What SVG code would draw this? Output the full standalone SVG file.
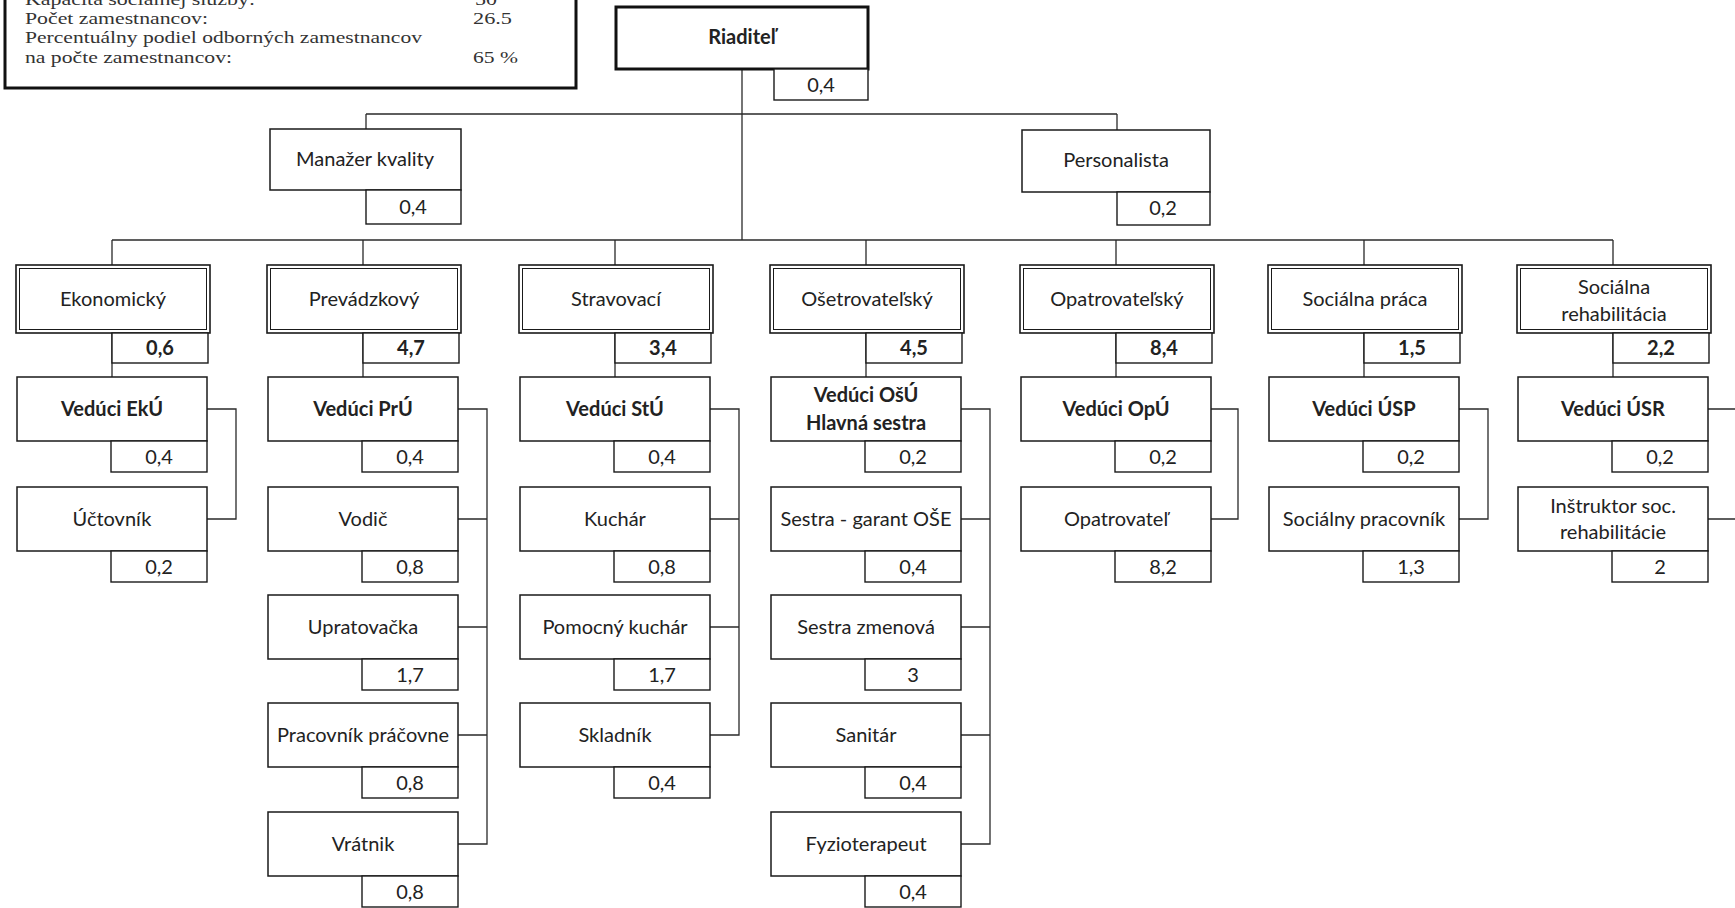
<svg xmlns="http://www.w3.org/2000/svg" width="1735" height="908" viewBox="0 0 1735 908">
<style>
  .bx{fill:#fff;stroke:#1a1a1a;stroke-width:1.5}
  .dbo{fill:#fff;stroke:#1a1a1a;stroke-width:1.6}
  .dbi{fill:none;stroke:#1a1a1a;stroke-width:1}
  .thick{fill:#fff;stroke:#111;stroke-width:3}
  .vb{fill:#fff;stroke:#1a1a1a;stroke-width:1.4}
  .ln{fill:none;stroke:#2a2a2a;stroke-width:1.3}
  .t{font-family:Lato,"Liberation Sans",sans-serif;font-size:20px;fill:#222;text-anchor:middle}
  .b{font-weight:bold}
  .v{font-family:Lato,"Liberation Sans",sans-serif;font-size:20px;fill:#222;text-anchor:middle}
  .inf{font-family:"Liberation Serif","Times New Roman",serif;font-size:17px;fill:#333}
</style>

<g id="info">
  <rect class="thick" x="5" y="-10" width="571" height="98"/>
  <text class="inf" x="25" y="5" textLength="230" lengthAdjust="spacingAndGlyphs">Kapacita sociálnej služby:</text>
  <text class="inf" x="475" y="5" textLength="22" lengthAdjust="spacingAndGlyphs">50</text>
  <text class="inf" x="25" y="24" textLength="183" lengthAdjust="spacingAndGlyphs">Počet zamestnancov:</text>
  <text class="inf" x="473" y="24" textLength="39" lengthAdjust="spacingAndGlyphs">26.5</text>
  <text class="inf" x="25" y="43" textLength="397" lengthAdjust="spacingAndGlyphs">Percentuálny podiel odborných zamestnancov</text>
  <text class="inf" x="25" y="63" textLength="207" lengthAdjust="spacingAndGlyphs">na počte zamestnancov:</text>
  <text class="inf" x="473" y="63" textLength="45" lengthAdjust="spacingAndGlyphs">65 %</text>
</g>

<g id="connectors">
  <path class="ln" d="M742,69 V240"/>
  <path class="ln" d="M366,114 H1117 M366,114 V129 M1117,114 V130"/>
  <path class="ln" d="M112,240 H1613"/>
  <path class="ln" d="M112,240 V265 M363,240 V265 M615,240 V265 M866,240 V265 M1116,240 V265 M1364,240 V265 M1613,240 V265"/>
  <path class="ln" d="M112,333 V377 M363,333 V377 M615,333 V377 M866,333 V377 M1116,333 V377 M1364,333 V377 M1613,333 V377"/>
  <path class="ln" d="M207,409 H236 V519 H207"/>
  <path class="ln" d="M458,409 H487 V844 H458 M458,519 H487 M458,627 H487 M458,735 H487"/>
  <path class="ln" d="M710,409 H739 V735 H710 M710,519 H739 M710,627 H739"/>
  <path class="ln" d="M961,409 H990 V844 H961 M961,519 H990 M961,627 H990 M961,735 H990"/>
  <path class="ln" d="M1211,409 H1238 V519 H1211"/>
  <path class="ln" d="M1459,409 H1488 V519 H1459"/>
  <path class="ln" d="M1708,409 H1735 M1708,519 H1735"/>
</g>

<g id="riaditel">
  <rect class="thick" x="616" y="7" width="252" height="62"/>
  <text class="t b" x="742" y="44">Riaditeľ</text>
  <rect class="vb" x="774" y="69" width="94" height="31"/>
  <text class="v" x="821" y="92">0,4</text>
</g>

<g id="manazer">
  <rect class="bx" x="270" y="129" width="191" height="61"/>
  <text class="t" x="365" y="166">Manažer kvality</text>
  <rect class="vb" x="366" y="190" width="95" height="34"/>
  <text class="v" x="413" y="214">0,4</text>
</g>

<g id="personalista">
  <rect class="bx" x="1022" y="130" width="188" height="62"/>
  <text class="t" x="1116" y="167">Personalista</text>
  <rect class="vb" x="1117" y="192" width="93" height="33"/>
  <text class="v" x="1163" y="215">0,2</text>
</g>

<g id="dept-ekonomicky">
  <rect class="dbo" x="16" y="265" width="194" height="68"/>
  <rect class="dbi" x="19.5" y="268.5" width="187" height="61"/>
  <text class="t" x="113" y="306">Ekonomický</text>
  <rect class="vb" x="112" y="333" width="96" height="30"/>
  <text class="v b" x="160" y="355">0,6</text>
</g>
<g id="veduci-eku">
  <rect class="bx" x="17" y="377" width="190" height="64"/>
  <text class="t b" x="112" y="416">Vedúci EkÚ</text>
  <rect class="vb" x="111" y="441" width="96" height="31"/>
  <text class="v" x="159" y="464">0,4</text>
</g>
<g id="uctovnik">
  <rect class="bx" x="17" y="487" width="190" height="64"/>
  <text class="t" x="112" y="526">Účtovník</text>
  <rect class="vb" x="111" y="551" width="96" height="31"/>
  <text class="v" x="159" y="574">0,2</text>
</g>

<g id="dept-prevadzkovy">
  <rect class="dbo" x="267" y="265" width="194" height="68"/>
  <rect class="dbi" x="270.5" y="268.5" width="187" height="61"/>
  <text class="t" x="364" y="306">Prevádzkový</text>
  <rect class="vb" x="363" y="333" width="96" height="30"/>
  <text class="v b" x="411" y="355">4,7</text>
</g>
<g id="veduci-pru">
  <rect class="bx" x="268" y="377" width="190" height="64"/>
  <text class="t b" x="363" y="416">Vedúci PrÚ</text>
  <rect class="vb" x="362" y="441" width="96" height="31"/>
  <text class="v" x="410" y="464">0,4</text>
</g>
<g id="vodic">
  <rect class="bx" x="268" y="487" width="190" height="64"/>
  <text class="t" x="363" y="526">Vodič</text>
  <rect class="vb" x="362" y="551" width="96" height="31"/>
  <text class="v" x="410" y="574">0,8</text>
</g>
<g id="upratovacka">
  <rect class="bx" x="268" y="595" width="190" height="64"/>
  <text class="t" x="363" y="634">Upratovačka</text>
  <rect class="vb" x="362" y="659" width="96" height="31"/>
  <text class="v" x="410" y="682">1,7</text>
</g>
<g id="pracovnik-pracovne">
  <rect class="bx" x="268" y="703" width="190" height="64"/>
  <text class="t" x="363" y="742">Pracovník práčovne</text>
  <rect class="vb" x="362" y="767" width="96" height="31"/>
  <text class="v" x="410" y="790">0,8</text>
</g>
<g id="vratnik">
  <rect class="bx" x="268" y="812" width="190" height="64"/>
  <text class="t" x="363" y="851">Vrátnik</text>
  <rect class="vb" x="362" y="876" width="96" height="31"/>
  <text class="v" x="410" y="899">0,8</text>
</g>

<g id="dept-stravovaci">
  <rect class="dbo" x="519" y="265" width="194" height="68"/>
  <rect class="dbi" x="522.5" y="268.5" width="187" height="61"/>
  <text class="t" x="616" y="306">Stravovací</text>
  <rect class="vb" x="615" y="333" width="96" height="30"/>
  <text class="v b" x="663" y="355">3,4</text>
</g>
<g id="veduci-stu">
  <rect class="bx" x="520" y="377" width="190" height="64"/>
  <text class="t b" x="615" y="416">Vedúci StÚ</text>
  <rect class="vb" x="614" y="441" width="96" height="31"/>
  <text class="v" x="662" y="464">0,4</text>
</g>
<g id="kuchar">
  <rect class="bx" x="520" y="487" width="190" height="64"/>
  <text class="t" x="615" y="526">Kuchár</text>
  <rect class="vb" x="614" y="551" width="96" height="31"/>
  <text class="v" x="662" y="574">0,8</text>
</g>
<g id="pomocny-kuchar">
  <rect class="bx" x="520" y="595" width="190" height="64"/>
  <text class="t" x="615" y="634">Pomocný kuchár</text>
  <rect class="vb" x="614" y="659" width="96" height="31"/>
  <text class="v" x="662" y="682">1,7</text>
</g>
<g id="skladnik">
  <rect class="bx" x="520" y="703" width="190" height="64"/>
  <text class="t" x="615" y="742">Skladník</text>
  <rect class="vb" x="614" y="767" width="96" height="31"/>
  <text class="v" x="662" y="790">0,4</text>
</g>

<g id="dept-osetrovatelsky">
  <rect class="dbo" x="770" y="265" width="194" height="68"/>
  <rect class="dbi" x="773.5" y="268.5" width="187" height="61"/>
  <text class="t" x="867" y="306">Ošetrovateľský</text>
  <rect class="vb" x="866" y="333" width="96" height="30"/>
  <text class="v b" x="914" y="355">4,5</text>
</g>
<g id="veduci-osu">
  <rect class="bx" x="771" y="377" width="190" height="64"/>
  <text class="t b" x="866" y="402">Vedúci OšÚ</text>
  <text class="t b" x="866" y="430">Hlavná sestra</text>
  <rect class="vb" x="865" y="441" width="96" height="31"/>
  <text class="v" x="913" y="464">0,2</text>
</g>
<g id="sestra-garant">
  <rect class="bx" x="771" y="487" width="190" height="64"/>
  <text class="t" x="866" y="526">Sestra - garant OŠE</text>
  <rect class="vb" x="865" y="551" width="96" height="31"/>
  <text class="v" x="913" y="574">0,4</text>
</g>
<g id="sestra-zmenova">
  <rect class="bx" x="771" y="595" width="190" height="64"/>
  <text class="t" x="866" y="634">Sestra zmenová</text>
  <rect class="vb" x="865" y="659" width="96" height="31"/>
  <text class="v" x="913" y="682">3</text>
</g>
<g id="sanitar">
  <rect class="bx" x="771" y="703" width="190" height="64"/>
  <text class="t" x="866" y="742">Sanitár</text>
  <rect class="vb" x="865" y="767" width="96" height="31"/>
  <text class="v" x="913" y="790">0,4</text>
</g>
<g id="fyzioterapeut">
  <rect class="bx" x="771" y="812" width="190" height="64"/>
  <text class="t" x="866" y="851">Fyzioterapeut</text>
  <rect class="vb" x="865" y="876" width="96" height="31"/>
  <text class="v" x="913" y="899">0,4</text>
</g>

<g id="dept-opatrovatelsky">
  <rect class="dbo" x="1020" y="265" width="194" height="68"/>
  <rect class="dbi" x="1023.5" y="268.5" width="187" height="61"/>
  <text class="t" x="1117" y="306">Opatrovateľský</text>
  <rect class="vb" x="1116" y="333" width="96" height="30"/>
  <text class="v b" x="1164" y="355">8,4</text>
</g>
<g id="veduci-opu">
  <rect class="bx" x="1021" y="377" width="190" height="64"/>
  <text class="t b" x="1116" y="416">Vedúci OpÚ</text>
  <rect class="vb" x="1115" y="441" width="96" height="31"/>
  <text class="v" x="1163" y="464">0,2</text>
</g>
<g id="opatrovatel">
  <rect class="bx" x="1021" y="487" width="190" height="64"/>
  <text class="t" x="1116" y="526">Opatrovateľ</text>
  <rect class="vb" x="1115" y="551" width="96" height="31"/>
  <text class="v" x="1163" y="574">8,2</text>
</g>

<g id="dept-socialna-praca">
  <rect class="dbo" x="1268" y="265" width="194" height="68"/>
  <rect class="dbi" x="1271.5" y="268.5" width="187" height="61"/>
  <text class="t" x="1365" y="306">Sociálna práca</text>
  <rect class="vb" x="1364" y="333" width="96" height="30"/>
  <text class="v b" x="1412" y="355">1,5</text>
</g>
<g id="veduci-usp">
  <rect class="bx" x="1269" y="377" width="190" height="64"/>
  <text class="t b" x="1364" y="416">Vedúci ÚSP</text>
  <rect class="vb" x="1363" y="441" width="96" height="31"/>
  <text class="v" x="1411" y="464">0,2</text>
</g>
<g id="socialny-pracovnik">
  <rect class="bx" x="1269" y="487" width="190" height="64"/>
  <text class="t" x="1364" y="526">Sociálny pracovník</text>
  <rect class="vb" x="1363" y="551" width="96" height="31"/>
  <text class="v" x="1411" y="574">1,3</text>
</g>

<g id="dept-socialna-rehabilitacia">
  <rect class="dbo" x="1517" y="265" width="194" height="68"/>
  <rect class="dbi" x="1520.5" y="268.5" width="187" height="61"/>
  <text class="t" x="1614" y="294">Sociálna</text>
  <text class="t" x="1614" y="321">rehabilitácia</text>
  <rect class="vb" x="1613" y="333" width="96" height="30"/>
  <text class="v b" x="1661" y="355">2,2</text>
</g>
<g id="veduci-usr">
  <rect class="bx" x="1518" y="377" width="190" height="64"/>
  <text class="t b" x="1613" y="416">Vedúci ÚSR</text>
  <rect class="vb" x="1612" y="441" width="96" height="31"/>
  <text class="v" x="1660" y="464">0,2</text>
</g>
<g id="instruktor">
  <rect class="bx" x="1518" y="487" width="190" height="64"/>
  <text class="t" x="1613" y="513">Inštruktor soc.</text>
  <text class="t" x="1613" y="539">rehabilitácie</text>
  <rect class="vb" x="1612" y="551" width="96" height="31"/>
  <text class="v" x="1660" y="574">2</text>
</g>
</svg>
